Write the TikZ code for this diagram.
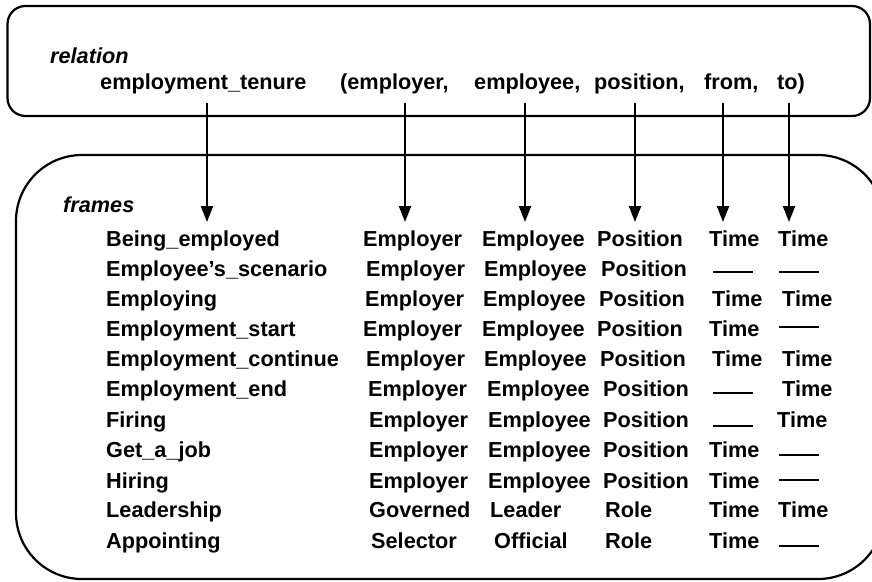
\documentclass[tikz,border=0pt]{standalone}
\usepackage{fontspec}
\setmainfont{Liberation Sans}
\usetikzlibrary{arrows.meta}
\begin{document}
\begin{tikzpicture}[x=1pt,y=-1pt,
  lbl/.style={anchor=base west,inner sep=0pt,font=\fontsize{21.7}{24}\selectfont\bfseries},
  head/.style={anchor=base west,inner sep=0pt,font=\fontsize{21.7}{24}\selectfont\bfseries\itshape},
  frame box/.style={draw=black,line width=2.2pt},
  link/.style={line width=2pt,-{Triangle[length=16pt,width=12pt]}},
  blank/.style={line width=2.2pt}]
\useasboundingbox (0,0) rectangle (872,581);
\begin{scope}
\clip (0,0) rectangle (872,581);
% relation box and frames box
\draw[frame box,rounded corners=18pt] (7.5,6) rectangle (870,116);
\draw[frame box,rounded corners=66pt] (16,155) rectangle (884,579);
\end{scope}

% relation header
\node[head] (rel) at (50,63) {relation};
\node[lbl] (rname) at (100,89) {employment\_tenure};
\node[lbl] (rarg1) at (340,89) {(employer,};
\node[lbl] (rarg2) at (474,89) {employee,};
\node[lbl] (rarg3) at (594,89) {position,};
\node[lbl] (rarg4) at (704,89) {from,};
\node[lbl] (rarg5) at (777,89) {to)};

\node[head] (frm) at (63,212) {frames};

% mapping arrows
\foreach \k/\x in {0/207,1/405,2/525,3/635,4/723,5/789}{
  \coordinate (s\k) at (\x,103);
  \coordinate (t\k) at (\x,222);
  \draw[link] (s\k) -- (t\k);
}

% frame rows: name, then role columns
\foreach \i/\b/\n in {1/246/Being\_employed,2/276/Employee’s\_scenario,3/306/Employing,
  4/336/Employment\_start,5/366/Employment\_continue,6/396/Employment\_end,
  7/427/Firing,8/457/Get\_a\_job,9/488/Hiring,10/517/Leadership,11/548/Appointing}{
  \node[lbl] (f\i) at (106,\b) {\n};
}

\foreach \i/\b/\xa/\ta/\xb/\tb/\xc/\tc in {
  1/246/363/Employer/482/Employee/597/Position,
  2/276/366/Employer/484/Employee/601/Position,
  3/306/365/Employer/483/Employee/599/Position,
  4/336/363/Employer/482/Employee/597/Position,
  5/366/366/Employer/484/Employee/600/Position,
  6/396/368/Employer/487/Employee/603/Position,
  7/427/369/Employer/488/Employee/603/Position,
  8/457/369/Employer/488/Employee/603/Position,
  9/488/369/Employer/488/Employee/603/Position,
  10/517/369/Governed/490/Leader/605/Role,
  11/548/371/Selector/494/Official/605/Role}{
  \node[lbl] (a\i) at (\xa,\b) {\ta};
  \node[lbl] (b\i) at (\xb,\b) {\tb};
  \node[lbl] (c\i) at (\xc,\b) {\tc};
}

% time columns
\node[lbl] (d1) at (709,246) {Time};   \node[lbl] (e1) at (778,246) {Time};
\node[lbl] (d3) at (712,306) {Time};   \node[lbl] (e3) at (782,306) {Time};
\node[lbl] (d4) at (709,336) {Time};
\node[lbl] (d5) at (712,366) {Time};   \node[lbl] (e5) at (782,366) {Time};
\node[lbl] (e6) at (782,396) {Time};
\node[lbl] (e7) at (777,427) {Time};
\node[lbl] (d8) at (709,457) {Time};
\node[lbl] (d9) at (709,488) {Time};
\node[lbl] (d10) at (709,517) {Time};  \node[lbl] (e10) at (778,517) {Time};
\node[lbl] (d11) at (709,548) {Time};

% empty slots
\draw[blank] (713,272) -- (753,272);
\draw[blank] (779,272) -- (819,272);
\draw[blank] (779,327) -- (819,327);
\draw[blank] (713,393) -- (753,393);
\draw[blank] (713,426) -- (753,426);
\draw[blank] (779,455) -- (819,455);
\draw[blank] (779,480) -- (819,480);
\draw[blank] (779,546) -- (819,546);
\end{tikzpicture}
\end{document}
